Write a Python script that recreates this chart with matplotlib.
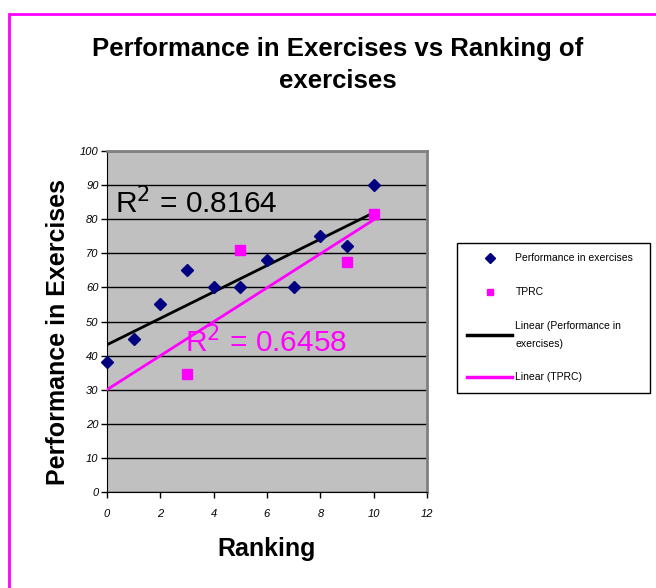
import matplotlib.pyplot as plt
import numpy as np
from matplotlib.patches import Rectangle
from matplotlib.lines import Line2D

plt.rcParams['font.family'] = ['Liberation Sans', 'DejaVu Sans']

rank = [0, 1, 2, 3, 4, 5, 6, 7, 8, 9, 10]
perf = [38, 45, 55, 65, 60, 60, 68, 60, 75, 72, 90]

tprc_rank = [3, 5, 9, 10]
tprc = [34.5, 71, 67.5, 81.5]

r2_perf = "0.8164"
r2_tprc = "0.6458"

fig = plt.figure(figsize=(6.56, 5.88), dpi=100)
ax = fig.add_axes([107 / 656, 1 - 492 / 588, 320 / 656, 341 / 588])
ax.set_facecolor('#C0C0C0')

# linear trend lines over 0..10
xs = np.array([0, 10])
k1, b1 = np.polyfit(rank, perf, 1)
k2, b2 = np.polyfit(tprc_rank, tprc, 1)
ax.plot(xs, k1 * xs + b1, color='black', lw=2, zorder=3)
ax.plot(xs, k2 * xs + b2, color='#FF00FF', lw=2, zorder=3)

ax.plot(rank, perf, 'D', color='#000080', markersize=6.5, zorder=4, clip_on=False)
ax.plot(tprc_rank, tprc, 's', color='#FF00FF', markersize=7, zorder=4, clip_on=False)

ax.text(0.3, 81.8, r'R$^2$ = ' + r2_perf, fontsize=21.5, color='black', va='baseline')
ax.text(2.93, 40.8, r'R$^2$ = ' + r2_tprc, fontsize=21.5, color='#FF00FF', va='baseline')

ax.set_xlim(0, 12)
ax.set_ylim(0, 100)
ax.set_xticks(range(0, 13, 2))
ax.set_yticks(range(0, 101, 10))
ax.yaxis.grid(True, color='black', lw=1)
ax.set_axisbelow(True)
ax.tick_params(direction='out', length=4, width=1, labelsize=8, pad=2)
for lab in ax.get_xticklabels() + ax.get_yticklabels():
    lab.set_style('italic')
ax.tick_params(axis='x', pad=8)

ax.spines['left'].set_color('black')
ax.spines['bottom'].set_color('black')
ax.spines['top'].set_color('#808080')
ax.spines['right'].set_color('#808080')
ax.spines['top'].set_linewidth(2)
ax.spines['right'].set_linewidth(2)

ax.set_xlabel('Ranking', fontsize=18, fontweight='bold', labelpad=13)
ax.set_ylabel('Performance in Exercises', fontsize=18, fontweight='bold')
ax.yaxis.set_label_coords(-0.115, 0.47)

fig.text(338 / 656, 1 - 65 / 588, 'Performance in Exercises vs Ranking of\nexercises',
         ha='center', va='center', fontsize=18.5, fontweight='bold', linespacing=1.45)

handles = [
    Line2D([], [], ls='none', marker='D', color='#000080', markersize=5),
    Line2D([], [], ls='none', marker='s', color='#FF00FF', markersize=5),
    Line2D([], [], color='black', lw=2.5),
    Line2D([], [], color='#FF00FF', lw=2.5),
]
labels = ['Performance in exercises', 'TPRC', 'Linear (Performance in\nexercises)', 'Linear (TPRC)']
leg = fig.legend(handles, labels, loc='upper left',
                 bbox_to_anchor=(457 / 656, 1 - 243 / 588 - 0.01, 193 / 656, 0.01), mode='expand',
                 fontsize=7.5, frameon=True, fancybox=False, edgecolor='black',
                 framealpha=1, labelspacing=2.3, handlelength=4.3, handletextpad=0.3,
                 borderpad=1.0, borderaxespad=0)
leg.get_frame().set_linewidth(1)
leg.get_texts()[2].set_linespacing(1.9)

# pink outer frame
fig.patches.append(Rectangle((8.5 / 656, -0.1), 1.2, 1 - 13.5 / 588 + 0.1,
                             transform=fig.transFigure, fill=False,
                             edgecolor='#FF00FF', lw=2))

fig.savefig('out.png', dpi=100)
